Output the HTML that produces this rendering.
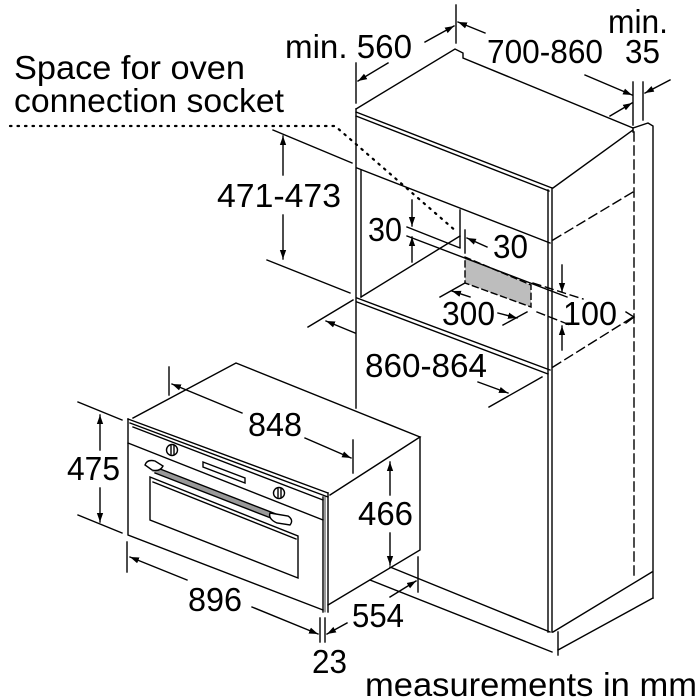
<!DOCTYPE html>
<html><head><meta charset="utf-8"><style>
html,body{margin:0;padding:0;background:#fff;}
svg{display:block;}
text{font-family:"Liberation Sans",sans-serif;fill:#000;}
</style></head><body>
<svg width="700" height="700" viewBox="0 0 700 700" xmlns="http://www.w3.org/2000/svg">
<defs>
<marker id="a" viewBox="0 0 10 10" refX="10" refY="5" markerWidth="9" markerHeight="9" orient="auto-start-reverse" markerUnits="userSpaceOnUse"><path d="M0,1.5 L10,5 L0,8.5 Z" fill="#000"/></marker>
</defs>
<g stroke="#000" stroke-width="1.4" fill="none" stroke-linecap="square">
<path d="M356,109 L455,49 L463,53 L463,58 L633,128"/>
<path d="M553,188 L633,130"/>
<path d="M633,128 L648,123 L653,126 L653,598"/>
<line x1="633" y1="128" x2="633" y2="132"/>
<line x1="634" y1="132" x2="634" y2="580" stroke-dasharray="9,5"/>
<line x1="356" y1="109" x2="356" y2="408"/>
<line x1="356" y1="112" x2="552" y2="188"/>
<line x1="356" y1="116" x2="549" y2="191"/>
<line x1="357" y1="168" x2="550" y2="243"/>
<line x1="361" y1="170" x2="361" y2="297"/>
<line x1="460" y1="210" x2="460" y2="247"/>
<line x1="361" y1="297" x2="460" y2="236"/>
<line x1="548" y1="190" x2="548" y2="632"/>
<line x1="552" y1="188" x2="552" y2="632"/>
<line x1="357" y1="298" x2="550" y2="370"/>
<line x1="357" y1="302" x2="548" y2="374"/>
<line x1="553" y1="240" x2="633" y2="192" stroke-dasharray="9,5"/>
<line x1="553" y1="367" x2="633" y2="317" stroke-dasharray="9,5"/>
<line x1="533" y1="283" x2="583" y2="299" stroke-dasharray="8,5"/>
<line x1="537" y1="312" x2="570" y2="325" stroke-dasharray="8,5"/>
<line x1="553" y1="632" x2="652" y2="572"/>
<line x1="558" y1="650" x2="653" y2="598"/>
<line x1="558" y1="632" x2="558" y2="655"/>
<line x1="390" y1="567" x2="550" y2="632"/>
<line x1="370" y1="580" x2="552" y2="652"/>
<path d="M465,257 L531,285 L531,307 L465,283 Z" fill="#bdbdbd" stroke-dasharray="6,4"/>
<path d="M133,418 L236,363 L420,437 L330,495"/>
<path d="M420,437 L420,550 L328,605"/>
<path d="M128,419 L128,535 L323,610"/>
<line x1="128" y1="419" x2="328" y2="493"/>
<line x1="130" y1="423" x2="328" y2="497"/>
<line x1="133" y1="427" x2="323" y2="500"/>
<line x1="323" y1="497" x2="323" y2="612"/>
<line x1="328" y1="493" x2="328" y2="612"/>
<line x1="325" y1="497" x2="325" y2="612" stroke-width="0.8"/>
<line x1="128" y1="443" x2="323" y2="520"/>
<circle cx="172" cy="450" r="5.5"/>
<line x1="171" y1="446" x2="171" y2="454"/><line x1="174" y1="446" x2="174" y2="454"/>
<circle cx="279" cy="493" r="5.5"/>
<line x1="278" y1="489" x2="278" y2="497"/><line x1="281" y1="489" x2="281" y2="497"/>
<path d="M203,462 L245,478 L245,483 L203,467 Z"/>
<path d="M150,477 L298,536 L298,578 L150,520 Z"/>
<path d="M153,482 L296,539"/>
<line x1="155" y1="470" x2="276" y2="517" stroke="#999" stroke-width="5"/>
<line x1="155" y1="467" x2="276" y2="514"/>
<line x1="155" y1="473" x2="276" y2="520"/>
<path d="M145,465 Q147,459 155,461 L163,466 Q160,472 152,470 Z" fill="#fff"/>
<path d="M270,513 L288,516 Q294,520 290,525 L277,523 Q268,519 270,513 Z" fill="#fff"/>
<path d="M10,126 L335,126 L357,145 L457,232" stroke-dasharray="1.5,6" stroke-width="2.2" stroke-linecap="round"/>
<line x1="356" y1="63" x2="356" y2="103"/>
<line x1="388" y1="63" x2="358" y2="81" marker-end="url(#a)"/>
<line x1="425" y1="42" x2="454" y2="26" marker-end="url(#a)"/>
<line x1="456" y1="5" x2="456" y2="43"/>
<line x1="485" y1="33" x2="458" y2="22" marker-end="url(#a)"/>
<line x1="585" y1="75" x2="632" y2="95" marker-end="url(#a)"/>
<line x1="610" y1="116" x2="632" y2="103" marker-end="url(#a)"/>
<line x1="633" y1="82" x2="633" y2="125"/>
<line x1="643" y1="82" x2="643" y2="120"/>
<line x1="670" y1="80" x2="645" y2="93" marker-end="url(#a)"/>
<line x1="273" y1="130" x2="352" y2="163"/>
<line x1="267" y1="260" x2="350" y2="293"/>
<line x1="283" y1="175" x2="283" y2="136" marker-end="url(#a)"/>
<line x1="283" y1="215" x2="283" y2="259" marker-end="url(#a)"/>
<line x1="407" y1="227" x2="460" y2="248"/>
<line x1="407" y1="236" x2="567" y2="297"/>
<line x1="412" y1="200" x2="412" y2="226" marker-end="url(#a)"/>
<line x1="412" y1="262" x2="412" y2="237" marker-end="url(#a)"/>
<line x1="465" y1="230" x2="465" y2="253"/>
<line x1="487" y1="247" x2="467" y2="238" marker-end="url(#a)"/>
<line x1="562" y1="265" x2="562" y2="292" marker-end="url(#a)"/>
<line x1="562" y1="350" x2="562" y2="326" marker-end="url(#a)"/>
<path d="M626,312 L634,317 L626,323"/>
<line x1="440" y1="297" x2="465" y2="283"/>
<line x1="470" y1="297" x2="452" y2="291" marker-end="url(#a)"/>
<line x1="498" y1="313" x2="517" y2="318" marker-end="url(#a)"/>
<line x1="503" y1="325" x2="527" y2="312"/>
<line x1="308" y1="327" x2="353" y2="300"/>
<line x1="355" y1="333" x2="326" y2="321" marker-end="url(#a)"/>
<line x1="478" y1="382" x2="508" y2="393" marker-end="url(#a)"/>
<line x1="489" y1="407" x2="542" y2="377"/>
<line x1="169" y1="367" x2="169" y2="395"/>
<line x1="242" y1="413" x2="172" y2="384" marker-end="url(#a)"/>
<line x1="305" y1="438" x2="351" y2="458" marker-end="url(#a)"/>
<line x1="353" y1="440" x2="353" y2="473"/>
<line x1="78" y1="402" x2="122" y2="420"/>
<line x1="78" y1="515" x2="122" y2="533"/>
<line x1="100" y1="450" x2="100" y2="415" marker-end="url(#a)"/>
<line x1="100" y1="488" x2="100" y2="522" marker-end="url(#a)"/>
<line x1="390" y1="495" x2="390" y2="462" marker-end="url(#a)"/>
<line x1="390" y1="533" x2="390" y2="565" marker-end="url(#a)"/>
<line x1="127" y1="542" x2="127" y2="572"/>
<line x1="187" y1="580" x2="130" y2="557" marker-end="url(#a)"/>
<line x1="252" y1="607" x2="318" y2="634" marker-end="url(#a)"/>
<line x1="320" y1="618" x2="320" y2="642"/>
<line x1="325" y1="618" x2="325" y2="642"/>
<line x1="347" y1="623" x2="327" y2="634" marker-end="url(#a)"/>
<line x1="390" y1="597" x2="416" y2="581" marker-end="url(#a)"/>
<line x1="418" y1="557" x2="418" y2="592"/>
</g>
<g font-size="33">
<text x="14" y="79" textLength="231" lengthAdjust="spacingAndGlyphs">Space for oven</text>
<text x="14" y="112" textLength="270" lengthAdjust="spacingAndGlyphs">connection socket</text>
<text x="285" y="58" textLength="127" lengthAdjust="spacingAndGlyphs">min. 560</text>
<text x="487" y="63" textLength="116" lengthAdjust="spacingAndGlyphs">700-860</text>
<text x="608" y="33" textLength="60" lengthAdjust="spacingAndGlyphs">min.</text>
<text x="625" y="63" textLength="35" lengthAdjust="spacingAndGlyphs">35</text>
<text x="217" y="207" textLength="124" lengthAdjust="spacingAndGlyphs">471-473</text>
<text x="368" y="241" textLength="34" lengthAdjust="spacingAndGlyphs">30</text>
<text x="493" y="258" textLength="35" lengthAdjust="spacingAndGlyphs">30</text>
<text x="442" y="325" textLength="53" lengthAdjust="spacingAndGlyphs">300</text>
<text x="563" y="325" textLength="54" lengthAdjust="spacingAndGlyphs">100</text>
<text x="365" y="377" textLength="122" lengthAdjust="spacingAndGlyphs">860-864</text>
<text x="248" y="436" textLength="54" lengthAdjust="spacingAndGlyphs">848</text>
<text x="67" y="480" textLength="53" lengthAdjust="spacingAndGlyphs">475</text>
<text x="358" y="525" textLength="55" lengthAdjust="spacingAndGlyphs">466</text>
<text x="188" y="611" textLength="54" lengthAdjust="spacingAndGlyphs">896</text>
<text x="352" y="627" textLength="52" lengthAdjust="spacingAndGlyphs">554</text>
<text x="312" y="673" textLength="35" lengthAdjust="spacingAndGlyphs">23</text>
<text x="365" y="696" textLength="332" lengthAdjust="spacingAndGlyphs">measurements in mm</text>
</g>
</svg>
</body></html>
